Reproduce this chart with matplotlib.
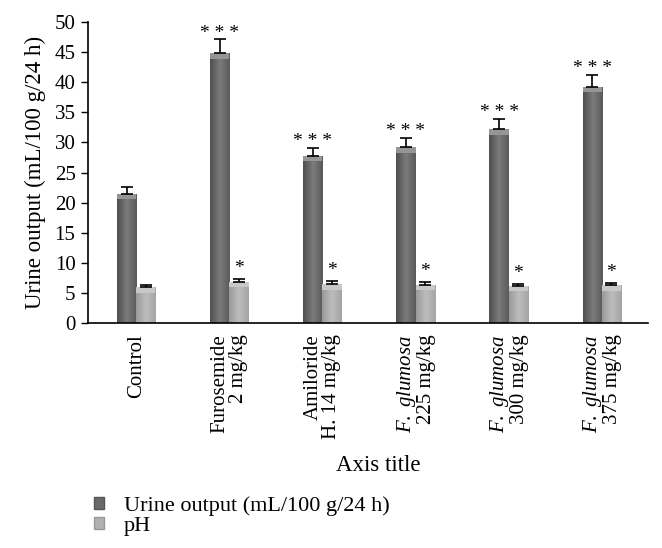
import numpy as np
import matplotlib
matplotlib.use("Agg")
import matplotlib.pyplot as plt
from matplotlib.patches import Patch
from matplotlib.colors import LinearSegmentedColormap

plt.rcParams['font.family'] = ['Liberation Serif', 'DejaVu Serif']
plt.rcParams['mathtext.fontset'] = 'custom'
plt.rcParams['mathtext.rm'] = 'Liberation Serif'
plt.rcParams['mathtext.it'] = 'Liberation Serif:italic'

# --------------------------
# Data
# --------------------------
groups = ['Control',
          'Furosemide\n2 mg/kg',
          'Amiloride\nH. 14 mg/kg',
          r'$\it{F.\ glumosa}$' + '\n225 mg/kg',
          r'$\it{F.\ glumosa}$' + '\n300 mg/kg',
          r'$\it{F.\ glumosa}$' + '\n375 mg/kg']
urine = [21.5, 44.8, 27.8, 29.2, 32.2, 39.2]
urine_err = [1.1, 2.3, 1.3, 1.5, 1.7, 2.0]
urine_sig = ['', '* * *', '* * *', '* * *', '* * *', '* * *']
ph = [6.0, 6.9, 6.5, 6.4, 6.2, 6.3]
ph_err = [0.3, 0.4, 0.5, 0.4, 0.4, 0.4]
ph_sig = ['', '*', '*', '*', '*', '*']

series_labels = ['Urine output (mL/100 g/24 h)', 'pH']

# --------------------------
# Styling helpers
# --------------------------
dark_cmap = LinearSegmentedColormap.from_list('dark', ['#4e4e4e', '#7c7c7c', '#5a5a5a'])
light_cmap = LinearSegmentedColormap.from_list('light', ['#9a9a9a', '#bdbdbd', '#a4a4a4'])
grad = np.linspace(0, 1, 64).reshape(1, -1)


def shade_bars(ax, bars, cmap, cap_color):
    for b in bars:
        x0, y0 = b.get_x(), b.get_y()
        w, h = b.get_width(), b.get_height()
        im = ax.imshow(grad, extent=[x0, x0 + w, y0, y0 + h], aspect='auto',
                       cmap=cmap, zorder=2, interpolation='bicubic')
        im.set_clip_path(b)
        ax.bar(x0 + w / 2, 0.9, width=w, bottom=y0 + h - 0.9,
               color=cap_color, zorder=3, linewidth=0)


fig = plt.figure(figsize=(6.62, 5.48), dpi=100)
ax = fig.add_axes([0.133, 0.41, 0.846, 0.55])

x = np.arange(len(groups))
w = 0.205

b1 = ax.bar(x - w / 2, urine, w, color='#6a6a6a', zorder=1, linewidth=0)
b2 = ax.bar(x + w / 2, ph, w, color='#b0b0b0', zorder=1, linewidth=0)
shade_bars(ax, b1, dark_cmap, '#959595')
shade_bars(ax, b2, light_cmap, '#c8c8c8')

zeros = np.zeros(len(groups))
ax.errorbar(x - w / 2, urine, yerr=[zeros, urine_err], fmt='none',
            ecolor='black', elinewidth=1.2, capsize=4, capthick=1.2, zorder=4)
ax.errorbar(x + w / 2, ph, yerr=[zeros, ph_err], fmt='none',
            ecolor='black', elinewidth=1.2, capsize=4, capthick=1.2, zorder=4)

for i in range(len(groups)):
    if urine_sig[i]:
        ax.text(x[i] - w / 2, urine[i] + urine_err[i] + 0.3, urine_sig[i],
                ha='center', va='baseline', fontsize=14)
    if ph_sig[i]:
        ax.text(x[i] + w / 2, ph[i] + ph_err[i] + 1.0, ph_sig[i],
                ha='center', va='baseline', fontsize=14)

ax.set_xlim(-0.52, 5.5)
ax.set_ylim(0, 50)
ax.set_yticks(np.arange(0, 51, 5))
ax.tick_params(axis='y', labelsize=15, length=5, width=1, direction='out', pad=4)
ax.set_xticks(x)
ax.set_xticklabels(groups, rotation=90, fontsize=15, multialignment='right',
                   linespacing=0.95)
ax.tick_params(axis='x', length=0, pad=8)
ax.spines['top'].set_visible(False)
ax.spines['right'].set_visible(False)
ax.spines['left'].set_linewidth(1.2)
ax.spines['bottom'].set_linewidth(1.2)
ax.set_ylabel('Urine output (mL/100 g/24 h)', fontsize=16.5, labelpad=6)

fig.text(0.571, 0.151, 'Axis title', ha='center', va='center', fontsize=16.5)

handles = [Patch(facecolor='#6a6a6a', edgecolor='#555555', label=series_labels[0]),
           Patch(facecolor='#b0b0b0', edgecolor='#999999', label=series_labels[1])]
fig.legend(handles=handles, loc='upper left', bbox_to_anchor=(0.125, 0.115),
           frameon=False, fontsize=16, handlelength=0.45, handleheight=0.45,
           handletextpad=0.9, labelspacing=0.05, borderpad=0)

fig.savefig('out.png', dpi=100)
